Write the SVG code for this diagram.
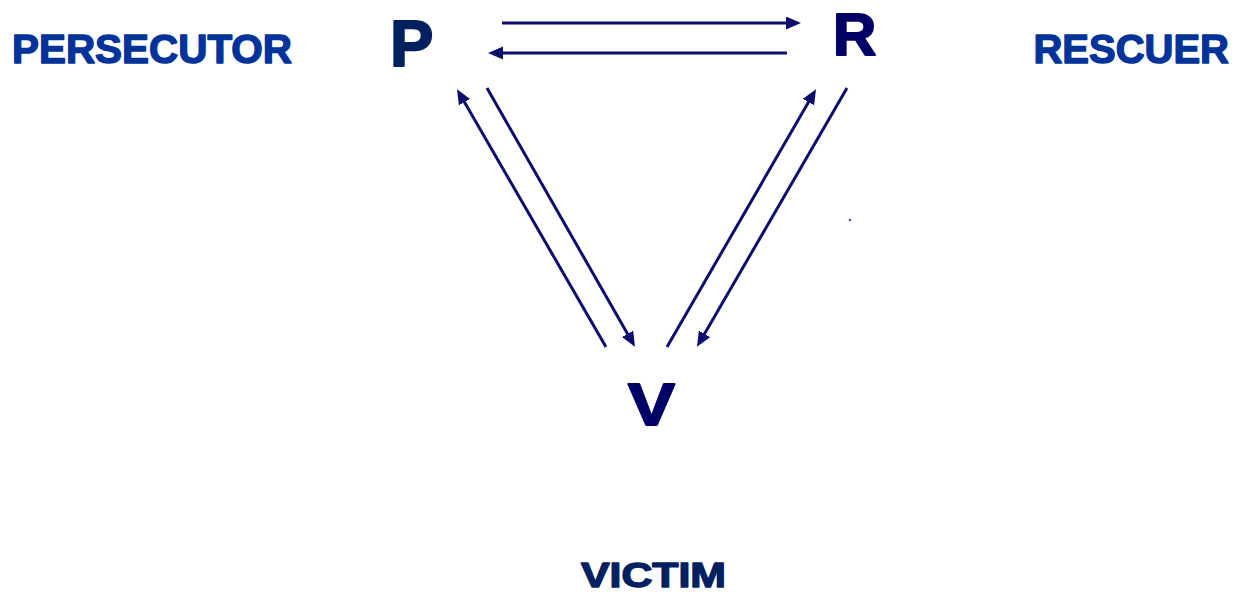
<svg xmlns="http://www.w3.org/2000/svg" width="1237" height="595" viewBox="0 0 1237 595">
<style>
  text { font-family: "Liberation Sans", Arial, sans-serif; font-weight: bold; stroke-linejoin: round; }
  .role { fill: #003399; stroke: #003399; stroke-width: 1.4; font-size: 40px; }
  .conn { stroke: #0d0d6b; stroke-width: 3; fill: none; marker-end: url(#ah); }
</style>
<defs>
  <marker id="ah" markerUnits="userSpaceOnUse" markerWidth="16" markerHeight="14" refX="10" refY="6.5" orient="auto">
    <path d="M0,0 L15,6.5 L0,13 z" fill="#0d0d6b"/>
  </marker>
</defs>
<rect width="1237" height="595" fill="#ffffff"/>
<g id="persecutor-label"><text class="role" x="12" y="63" textLength="280" lengthAdjust="spacingAndGlyphs">PERSECUTOR</text></g>
<g id="rescuer-label"><text class="role" x="1229" y="63" text-anchor="end">RESCUER</text></g>
<g id="victim-label"><text x="581" y="587" font-size="35" fill="#002060" stroke="#002060" stroke-width="1.4" textLength="145" lengthAdjust="spacingAndGlyphs">VICTIM</text></g>
<g id="node-P"><text x="390" y="66" font-size="65" fill="#002060" stroke="#002060" stroke-width="2">P</text></g>
<g id="node-R"><text x="833" y="55" font-size="60" fill="#000066" stroke="#000066" stroke-width="2">R</text></g>
<g id="node-V"><text x="628" y="425" font-size="60" fill="#000066" stroke="#000066" stroke-width="2" textLength="47" lengthAdjust="spacingAndGlyphs">V</text></g>
<g id="connectors">
  <line class="conn" x1="502" y1="23" x2="796" y2="23"/>
  <line class="conn" x1="787" y1="53" x2="493" y2="53"/>
  <line class="conn" x1="606" y1="347" x2="459.5" y2="93.5"/>
  <line class="conn" x1="487" y1="88" x2="632.5" y2="342.5"/>
  <line class="conn" x1="667" y1="347" x2="813.5" y2="93.5"/>
  <line class="conn" x1="847" y1="88" x2="699.5" y2="342.5"/>
</g>
<circle cx="850" cy="220" r="1.2" fill="#3344cc"/>
</svg>
